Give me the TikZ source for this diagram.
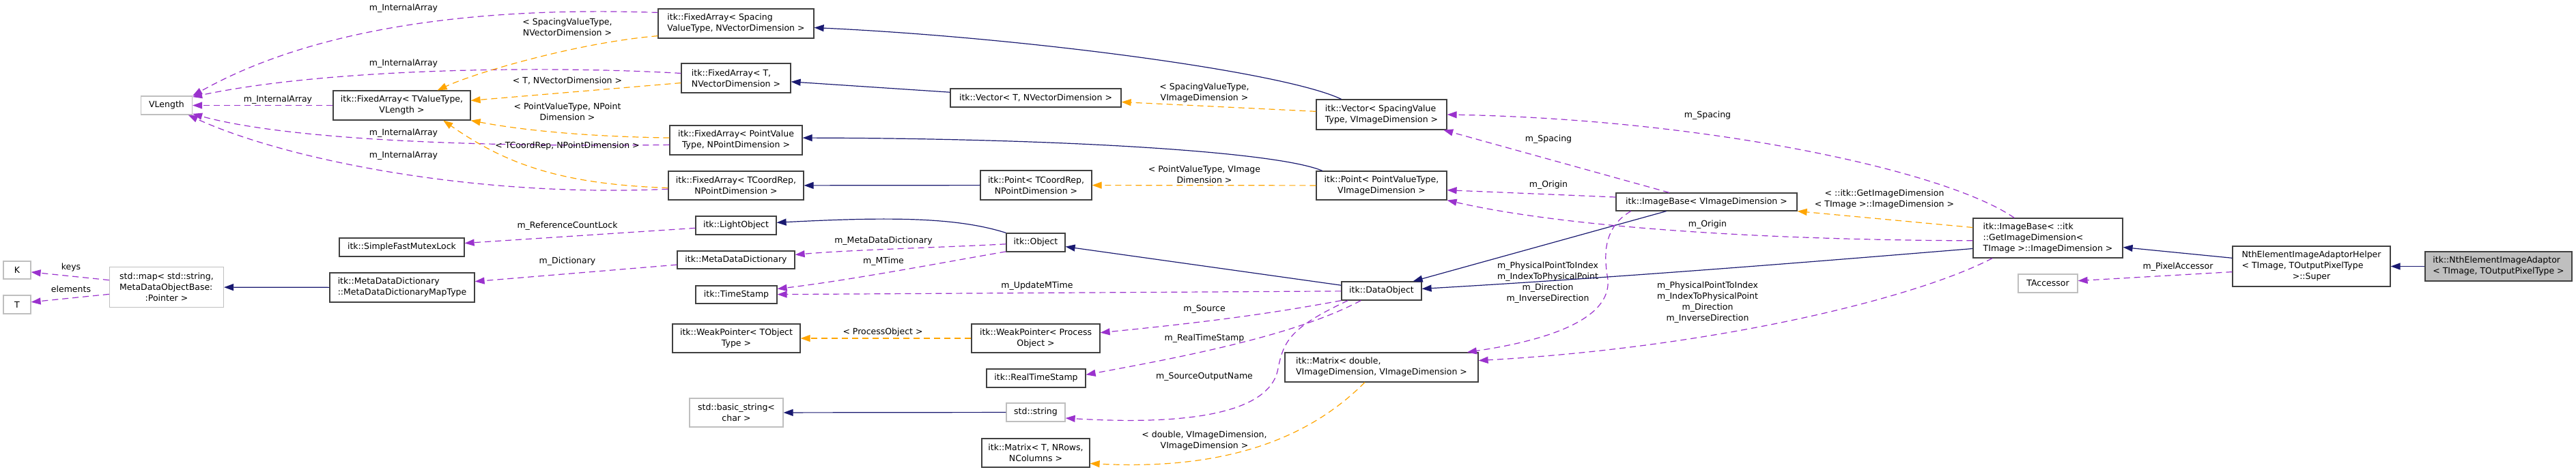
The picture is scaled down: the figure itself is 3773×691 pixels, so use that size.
\documentclass[tikz,border=0pt]{standalone}
\usepackage{fontspec}
\setmainfont{DejaVu Sans}
\usetikzlibrary{arrows.meta}
\definecolor{inhblue}{HTML}{191970}
\definecolor{usepurple}{HTML}{9A32CD}
\definecolor{tplorange}{HTML}{FFA500}
\definecolor{boxline}{HTML}{404040}
\definecolor{grey75}{HTML}{BFBFBF}
\newcommand{\dox}{\fontsize{12.5}{16}\selectfont}
\newcommand{\ctrln}[1]{\hfill#1\hfill\null}

\begin{document}
\begin{tikzpicture}[x=1pt,y=-1pt,>={Triangle[length=14pt,width=10pt]},
 cls/.style={draw=boxline,line width=1.2pt,fill=white,inner sep=2pt,font=\dox,align=left},
 extcls/.style={cls,draw=grey75},
 selfcls/.style={cls,fill=grey75},
 boxsize/.style 2 args={minimum width=#1pt,minimum height=#2pt},
 inh/.style={->,line width=1.2pt,color=inhblue},
 memb/.style={->,line width=1.2pt,color=usepurple,dash pattern=on 9pt off 6pt},
 tpl/.style={->,line width=1.2pt,color=tplorange,dash pattern=on 9pt off 6pt},
 lbl/.style={font=\dox,align=center,inner sep=0pt,text=black}]
 \useasboundingbox (0,0) rectangle (3773,691);
 \node[extcls,boxsize={75}{27}] (vlen) at (244,154.5) {VLength};
 \node[extcls,boxsize={40}{26}] (keyK) at (25,396) {K};
 \node[extcls,boxsize={40}{27}] (elemT) at (25,446.5) {T};
 \node[extcls,boxsize={167}{59}] (stdmap) at (244,421) {std::map< std::string,\\ MetaDataObjectBase:\\ \ctrln{:Pointer >}};
 \node[cls,boxsize={201}{43}] (faTV) at (588.5,154.5) {itk::FixedArray< TValueType,\\ \ctrln{VLength >}};
 \node[cls,boxsize={183}{27}] (mutex) at (588.5,362.5) {itk::SimpleFastMutexLock};
 \node[cls,boxsize={212}{43}] (dictmap) at (589,421.5) {itk::MetaDataDictionary\\ \ctrln{::MetaDataDictionaryMapType}};
 \node[cls,boxsize={228}{43}] (faSpace) at (1078,34.5) {itk::FixedArray< Spacing\\ \ctrln{ValueType, NVectorDimension >}};
 \node[cls,boxsize={160}{43}] (faTN) at (1078,114.5) {itk::FixedArray< T,\\ \ctrln{NVectorDimension >}};
 \node[cls,boxsize={194}{43}] (faPV) at (1078,205.5) {itk::FixedArray< PointValue\\ \ctrln{Type, NPointDimension >}};
 \node[cls,boxsize={198}{42}] (faCR) at (1078,272) {itk::FixedArray< TCoordRep,\\ \ctrln{NPointDimension >}};
 \node[cls,boxsize={118}{27}] (lightobj) at (1078,330.5) {itk::LightObject};
 \node[cls,boxsize={172}{26}] (dict) at (1078,381) {itk::MetaDataDictionary};
 \node[cls,boxsize={119}{26}] (tstamp) at (1078.5,432) {itk::TimeStamp};
 \node[cls,boxsize={187}{42}] (wpT) at (1078.5,496) {itk::WeakPointer< TObject\\ \ctrln{Type >}};
 \node[extcls,boxsize={137}{42}] (bstring) at (1078.5,605) {std::basic\_string<\\ \ctrln{char >}};
 \node[cls,boxsize={250}{27}] (vecTN) at (1517,143.5) {itk::Vector< T, NVectorDimension >};
 \node[cls,boxsize={163}{43}] (ptCR) at (1517.5,271.5) {itk::Point< TCoordRep,\\ \ctrln{NPointDimension >}};
 \node[cls,boxsize={86}{27}] (obj) at (1517,355.5) {itk::Object};
 \node[cls,boxsize={188}{42}] (wpProc) at (1517,496) {itk::WeakPointer< Process\\ \ctrln{Object >}};
 \node[cls,boxsize={145}{27}] (rts) at (1517.5,554.5) {itk::RealTimeStamp};
 \node[extcls,boxsize={86}{27}] (sstring) at (1517,604.5) {std::string};
 \node[cls,boxsize={158}{42}] (matTN) at (1517,664) {itk::Matrix< T, NRows,\\ \ctrln{NColumns >}};
 \node[cls,boxsize={283}{43}] (matD) at (2023.5,538.5) {itk::Matrix< double,\\ \ctrln{VImageDimension, VImageDimension >}};
 \node[cls,boxsize={191}{44}] (vecSV) at (2023.5,168) {itk::Vector< SpacingValue\\ \ctrln{Type, VImageDimension >}};
 \node[cls,boxsize={191}{42}] (ptPV) at (2023.5,272) {itk::Point< PointValueType,\\ \ctrln{VImageDimension >}};
 \node[cls,boxsize={117}{27}] (dataobj) at (2023.5,426.5) {itk::DataObject};
 \node[cls,boxsize={265}{26}] (imgV) at (2499.5,296) {itk::ImageBase< VImageDimension >};
 \node[cls,boxsize={219}{58}] (imgItk) at (2999.5,349) {itk::ImageBase< ::itk\\ ::GetImageDimension<\\ \ctrln{TImage >::ImageDimension >}};
 \node[extcls,boxsize={87}{27}] (tacc) at (2999.5,415.5) {TAccessor};
 \node[cls,boxsize={231}{59}] (helper) at (3385.5,390.5) {NthElementImageAdaptorHelper\\ < TImage, TOutputPixelType\\ \ctrln{>::Super}};
 \node[selfcls,boxsize={215}{43}] (adaptor) at (3659.5,390.5) {itk::NthElementImageAdaptor\\ \ctrln{< TImage, TOutputPixelType >}};
 \draw[memb] (faSpace.172) .. controls (720,10) and (470,35) .. (vlen.north east) node[lbl] at (591,12) {m\_InternalArray};
 \draw[memb] (faTN.175) .. controls (800,96) and (480,100) .. (vlen.18) node[lbl] at (591,93) {m\_InternalArray};
 \draw[memb] (faTV) -- (vlen) node[lbl] at (407,146) {m\_InternalArray};
 \draw[memb] (faPV.184) .. controls (700,216) and (420,205) .. (vlen.-18) node[lbl] at (591,195) {m\_InternalArray};
 \draw[memb] (faCR.183) .. controls (700,290) and (420,235) .. (vlen.-24) node[lbl] at (591,228) {m\_InternalArray};
 \draw[tpl] (faSpace.189) .. controls (850,62) and (700,105) .. (faTV.23) node[lbl] at (831,40) {< SpacingValueType,\\ NVectorDimension >};
 \draw[tpl] (faTN.185) -- (faTV.4) node[lbl] at (831,118) {< T, NVectorDimension >};
 \draw[tpl] (faPV.178) .. controls (850,200) and (760,190) .. (faTV.south east) node[lbl] at (831,164) {< PointValueType, NPoint\\ Dimension >};
 \draw[tpl] (faCR.182) .. controls (820,270) and (740,240) .. (faTV.-20) node[lbl] at (831,214) {< TCoordRep, NPointDimension >};
 \draw[inh] (vecSV.159) .. controls (1880,105) and (1500,55) .. (faSpace.-3);
 \draw[inh] (vecTN) -- (faTN);
 \draw[inh] (ptPV.166) .. controls (1870,222) and (1550,203) .. (faPV.2);
 \draw[inh] (ptCR) -- (faCR);
 \draw[tpl] (vecSV) -- (vecTN) node[lbl] at (1764,136) {< SpacingValueType,\\ VImageDimension >};
 \draw[tpl] (ptPV) -- (ptCR) node[lbl] at (1764,256) {< PointValueType, VImage\\ Dimension >};
 \draw[inh] (obj.north west) .. controls (1400,318) and (1300,318) .. (lightobj.4);
 \draw[memb] (lightobj) -- (mutex) node[lbl] at (831,331) {m\_ReferenceCountLock};
 \draw[memb] (dict) -- (dictmap) node[lbl] at (831,383) {m\_Dictionary};
 \draw[inh] (dictmap) -- (stdmap);
 \draw[memb] (stdmap.173) -- (keyK.-8) node[lbl] at (104,392) {keys};
 \draw[memb] (stdmap.187) -- (elemT.10) node[lbl] at (104,424) {elements};
 \draw[memb] (obj.183) .. controls (1400,362) and (1250,366) .. (dict.5) node[lbl] at (1294,353) {m\_MetaDataDictionary};
 \draw[memb] (obj.197) .. controls (1380,385) and (1250,410) .. (tstamp.8) node[lbl] at (1294,383) {m\_MTime};
 \draw[memb] (dataobj) -- (tstamp) node[lbl] at (1519,419) {m\_UpdateMTime};
 \draw[inh] (dataobj) -- (obj);
 \draw[memb] (dataobj.south west) .. controls (1850,462) and (1750,474) .. (wpProc.5) node[lbl] at (1764,453) {m\_Source};
 \draw[memb] (dataobj.205) .. controls (1900,490) and (1750,520) .. (rts.4) node[lbl] at (1764,496) {m\_RealTimeStamp};
 \draw[memb] (dataobj.196) .. controls (1890,480) and (1880,500) .. (1872,540) .. controls (1862,600) and (1760,625) .. (sstring.-11) node[lbl] at (1764,552) {m\_SourceOutputName};
 \draw[tpl] (wpProc) -- (wpT) node[lbl] at (1293,487) {< ProcessObject >};
 \draw[inh] (sstring) -- (bstring);
 \draw[tpl] (matD.222) .. controls (1920,640) and (1800,690) .. (matTN.-11) node[lbl] at (1764,646) {< double, VImageDimension,\\ VImageDimension >};
 \draw[memb] (imgV.166) -- (vecSV.-14) node[lbl] at (2268,204) {m\_Spacing};
 \draw[memb] (imgV.177) -- (ptPV.-4) node[lbl] at (2268,271) {m\_Origin};
 \draw[inh] (imgV.193) -- (dataobj.17);
 \draw[memb] (imgV.187) .. controls (2345,335) and (2350,380) .. (2355,410) .. controls (2360,470) and (2260,500) .. (matD.10) node[lbl] at (2267,414) {m\_PhysicalPointToIndex\\ m\_IndexToPhysicalPoint\\ m\_Direction\\ m\_InverseDirection};
 \draw[memb] (imgItk.149) .. controls (2850,250) and (2500,175) .. (vecSV.east) node[lbl] at (2501,169) {m\_Spacing};
 \draw[memb] (imgItk.182) .. controls (2600,352) and (2300,335) .. (ptPV.south east) node[lbl] at (2501,329) {m\_Origin};
 \draw[inh] (imgItk.188) .. controls (2700,380) and (2400,405) .. (dataobj.3);
 \draw[memb] (imgItk.200) .. controls (2800,440) and (2500,510) .. (matD.4) node[lbl] at (2501,443) {m\_PhysicalPointToIndex\\ m\_IndexToPhysicalPoint\\ m\_Direction\\ m\_InverseDirection};
 \draw[tpl] (imgItk.172) -- (imgV.south east) node[lbl] at (2760,292) {< ::itk::GetImageDimension\\ < TImage >::ImageDimension >};
 \draw[inh] (helper.174) -- (imgItk.-7);
 \draw[memb] (helper.184) -- (tacc.5) node[lbl] at (3190,391) {m\_PixelAccessor};
 \draw[inh] (adaptor) -- (helper);
\end{tikzpicture}
\end{document}
